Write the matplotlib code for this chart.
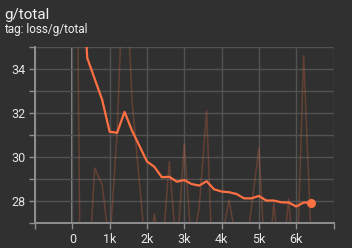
import matplotlib
matplotlib.use("Agg")
import matplotlib.pyplot as plt
from matplotlib.ticker import FixedLocator

# ---- data ----
steps = [0, 200, 400, 600, 800, 1000, 1200, 1400, 1600, 1800, 2000, 2200, 2400,
         2600, 2800, 3000, 3200, 3400, 3600, 3800, 4000, 4200, 4400, 4600, 4800,
         5000, 5200, 5400, 5600, 5800, 6000, 6200, 6400]
raw = [62.0, 26.5, 23.5, 29.5, 28.73, 25.9, 31.1, 40.0, 32.6, 28.8, 25.1, 27.4, 25.4,
       29.8, 25.5, 30.6, 25.8, 27.7, 32.1, 23.0, 26.2, 28.05, 26.1, 25.0, 27.7,
       30.4, 24.1, 27.9, 24.7, 28.1, 23.7, 34.6, 26.3]
smoothed = [62.0, 40.5, 34.5, 33.55, 32.6, 31.15, 31.1, 32.05, 31.2, 30.5, 29.8, 29.55,
            29.08, 29.1, 28.88, 28.95, 28.77, 28.70, 28.9, 28.53, 28.43, 28.40, 28.32,
            28.12, 28.12, 28.23, 28.02, 28.02, 27.94, 27.93, 27.75, 27.93, 27.93]
title = "g/total"
subtitle = "tag: loss/g/total"
x_ticks = [-1000, 0, 1000, 2000, 3000, 4000, 5000, 6000, 7000]
x_labels = ["", "0", "1k", "2k", "3k", "4k", "5k", "6k", ""]
y_ticks = [27, 28, 29, 30, 31, 32, 33, 34, 35]
y_labels = ["", "28", "", "30", "", "32", "", "34", ""]

BG = "#303030"
ORANGE = "#ff7043"
plt.rcParams['font.family'] = ['Roboto', 'DejaVu Sans']

fig = plt.figure(figsize=(3.52, 2.48), dpi=100, facecolor=BG)
ax = fig.add_axes([35/352, 25/248, (333.5-35)/352, (223-47)/248])
ax.set_facecolor(BG)

ax.set_xlim(-1000, 7000)
ax.set_ylim(27, 35)

ax.xaxis.set_major_locator(FixedLocator(x_ticks))
ax.set_xticklabels(x_labels)
ax.yaxis.set_major_locator(FixedLocator(y_ticks))
ax.set_yticklabels(y_labels)

ax.grid(True, color="#525252", linewidth=1.0, zorder=0)
ax.axvline(0, color="#9a9a9a", linewidth=1.2, zorder=1)

for s in ["top", "right"]:
    ax.spines[s].set_visible(False)
for s in ["left", "bottom"]:
    ax.spines[s].set_color("#8f8f8f")
    ax.spines[s].set_linewidth(1.4)

ax.tick_params(axis="both", colors="#8f8f8f", labelcolor="#e6e6e6",
               labelsize=9, length=4, width=1.0, pad=3)

ax.plot(steps, raw, color=ORANGE, alpha=0.25, linewidth=1.1, zorder=2)
ax.plot(steps, smoothed, color=ORANGE, linewidth=1.6, zorder=3)
ax.plot(steps[-1:], smoothed[-1:], "o", color=ORANGE, markersize=5.5, zorder=4,
        clip_on=False)

fig.text(4/352, 1 - 18.5/248, title, color="#f0f0f0", fontsize=11,
         ha="left", va="baseline")
fig.text(4/352, 1 - 32.5/248, subtitle, color="#f0f0f0", fontsize=8.5,
         ha="left", va="baseline")

fig.savefig("out.png", dpi=100, facecolor=BG)
